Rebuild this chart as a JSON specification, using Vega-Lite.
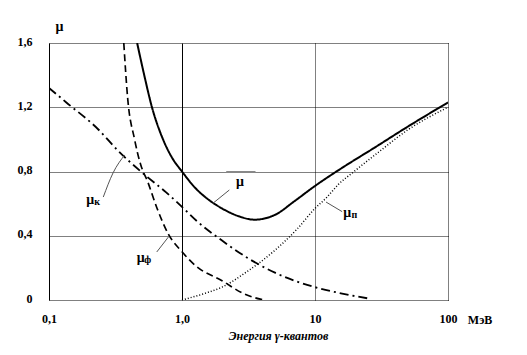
{
  "$schema": "https://vega.github.io/schema/vega-lite/v6.json",
  "width": 399,
  "height": 257,
  "autosize": "none",
  "padding": {"left": 49, "top": 43, "right": 79, "bottom": 55},
  "background": "white",
  "config": {"view": {"stroke": null}, "font": "Liberation Serif"},
  "datasets": {
    "curves": [
      {"s": "mu", "E": 0.46, "mu": 1.6},
      {"s": "mu", "E": 0.52, "mu": 1.4},
      {"s": "mu", "E": 0.59, "mu": 1.21},
      {"s": "mu", "E": 0.72, "mu": 1.0},
      {"s": "mu", "E": 0.85, "mu": 0.88},
      {"s": "mu", "E": 1.0, "mu": 0.8},
      {"s": "mu", "E": 1.25, "mu": 0.7},
      {"s": "mu", "E": 1.5, "mu": 0.64},
      {"s": "mu", "E": 2.0, "mu": 0.57},
      {"s": "mu", "E": 2.7, "mu": 0.52},
      {"s": "mu", "E": 3.5, "mu": 0.5},
      {"s": "mu", "E": 5.0, "mu": 0.53},
      {"s": "mu", "E": 7.0, "mu": 0.615},
      {"s": "mu", "E": 10, "mu": 0.71},
      {"s": "mu", "E": 16.5, "mu": 0.83},
      {"s": "mu", "E": 27, "mu": 0.94},
      {"s": "mu", "E": 50, "mu": 1.08},
      {"s": "mu", "E": 100, "mu": 1.23},
      {"s": "mu_k", "E": 0.1, "mu": 1.32},
      {"s": "mu_k", "E": 0.135, "mu": 1.23},
      {"s": "mu_k", "E": 0.236, "mu": 1.06},
      {"s": "mu_k", "E": 0.33, "mu": 0.93},
      {"s": "mu_k", "E": 0.49, "mu": 0.8},
      {"s": "mu_k", "E": 0.76, "mu": 0.67},
      {"s": "mu_k", "E": 1.0, "mu": 0.58},
      {"s": "mu_k", "E": 1.3, "mu": 0.49},
      {"s": "mu_k", "E": 2.0, "mu": 0.37},
      {"s": "mu_k", "E": 3.0, "mu": 0.27},
      {"s": "mu_k", "E": 5.0, "mu": 0.17},
      {"s": "mu_k", "E": 10, "mu": 0.08},
      {"s": "mu_k", "E": 16, "mu": 0.04},
      {"s": "mu_k", "E": 25, "mu": 0.01},
      {"s": "mu_f", "E": 0.365, "mu": 1.6},
      {"s": "mu_f", "E": 0.39, "mu": 1.26},
      {"s": "mu_f", "E": 0.44, "mu": 1.0},
      {"s": "mu_f", "E": 0.49, "mu": 0.84},
      {"s": "mu_f", "E": 0.55, "mu": 0.74},
      {"s": "mu_f", "E": 0.65, "mu": 0.57},
      {"s": "mu_f", "E": 0.79, "mu": 0.41},
      {"s": "mu_f", "E": 1.0, "mu": 0.3},
      {"s": "mu_f", "E": 1.28, "mu": 0.21},
      {"s": "mu_f", "E": 2.0, "mu": 0.12},
      {"s": "mu_f", "E": 2.9, "mu": 0.04},
      {"s": "mu_f", "E": 4.1, "mu": 0.0},
      {"s": "mu_n", "E": 1.0, "mu": 0.0},
      {"s": "mu_n", "E": 1.6, "mu": 0.05},
      {"s": "mu_n", "E": 2.0, "mu": 0.08},
      {"s": "mu_n", "E": 3.0, "mu": 0.17},
      {"s": "mu_n", "E": 5.0, "mu": 0.31},
      {"s": "mu_n", "E": 7.3, "mu": 0.44},
      {"s": "mu_n", "E": 10, "mu": 0.57},
      {"s": "mu_n", "E": 12.3, "mu": 0.64},
      {"s": "mu_n", "E": 15, "mu": 0.72},
      {"s": "mu_n", "E": 19, "mu": 0.79},
      {"s": "mu_n", "E": 30, "mu": 0.92},
      {"s": "mu_n", "E": 50, "mu": 1.06},
      {"s": "mu_n", "E": 100, "mu": 1.2}
    ],
    "leaders": [
      {"id": "k", "E": 0.256, "mu": 0.641},
      {"id": "k", "E": 0.303, "mu": 0.791},
      {"id": "k", "E": 0.371, "mu": 0.903},
      {"id": "f", "E": 0.646, "mu": 0.299},
      {"id": "f", "E": 0.79, "mu": 0.392},
      {"id": "m", "E": 1.72, "mu": 0.604},
      {"id": "m", "E": 2.27, "mu": 0.685},
      {"id": "n", "E": 12.1, "mu": 0.61},
      {"id": "n", "E": 16.0, "mu": 0.55}
    ],
    "labels": [
      {"E": 0.204, "mu": 0.623, "t": "μ", "sub": "к"},
      {"E": 0.49, "mu": 0.26, "t": "μ", "sub": "ф"},
      {"E": 2.73, "mu": 0.735, "t": "μ", "sub": ""},
      {"E": 17.5, "mu": 0.54, "t": "μ", "sub": "п"}
    ],
    "unit": [{"E": 100, "mu": 0, "t": "МэВ"}],
    "seg": [{"E": 2.15, "E2": 3.57, "mu": 0.797}]
  },
  "layer": [
    {
      "data": {"name": "curves"},
      "mark": {"type": "line", "color": "black", "clip": true, "interpolate": "monotone"},
      "encoding": {
        "x": {
          "field": "E", "type": "quantitative",
          "scale": {"type": "log", "domain": [0.1, 100]},
          "axis": {
            "values": [0.1, 1, 10, 100],
            "grid": true, "gridColor": "black", "gridOpacity": 1, "gridWidth": 1,
            "gridDash": {"condition": {"test": "datum.value < 5", "value": []}, "value": [1, 1]},
            "ticks": false, "domain": false,
            "labelExpr": "datum.value == 0.1 ? '0,1' : datum.value == 1 ? '1,0' : format(datum.value, 'd')",
            "labelFont": "Liberation Serif", "labelFontWeight": "bold", "labelFontSize": 12,
            "labelColor": "black", "labelPadding": 13, "labelFlush": false, "labelOverlap": false,
            "title": "Энергия γ-квантов",
            "titleFont": "Liberation Serif", "titleFontStyle": "italic", "titleFontWeight": "bold",
            "titleFontSize": 12, "titleColor": "black",
            "titleX": 229, "titleY": 35, "titleAlign": "center", "titleBaseline": "middle"
          }
        },
        "y": {
          "field": "mu", "type": "quantitative",
          "scale": {"domain": [0, 1.6]},
          "axis": {
            "values": [0, 0.4, 0.8, 1.2, 1.6],
            "grid": true, "gridColor": "black", "gridOpacity": 1, "gridWidth": 1, "gridDash": [1, 1],
            "ticks": false, "domain": false,
            "labelExpr": "datum.value == 0 ? '0' : replace(format(datum.value, '.1f'), '.', ',')",
            "labelFont": "Liberation Serif", "labelFontWeight": "bold", "labelFontSize": 12,
            "labelColor": "black", "labelPadding": 17, "labelOffset": -2, "labelFlush": false,
            "title": "μ", "titleAngle": 0, "titleFont": "Liberation Serif", "titleFontWeight": "bold",
            "titleFontSize": 14, "titleColor": "black",
            "titleX": 10, "titleY": -17, "titleAlign": "center", "titleBaseline": "middle"
          }
        },
        "strokeDash": {
          "field": "s", "type": "nominal",
          "scale": {"domain": ["mu", "mu_k", "mu_f", "mu_n"], "range": [[1, 0], [9, 4, 2, 4], [7, 4], [1, 2]]},
          "legend": null
        },
        "strokeWidth": {
          "field": "s", "type": "nominal",
          "scale": {"domain": ["mu", "mu_k", "mu_f", "mu_n"], "range": [2, 1.5, 1.5, 1.5]},
          "legend": null
        },
        "detail": {"field": "s"}
      }
    },
    {
      "data": {"name": "leaders"},
      "mark": {"type": "line", "color": "#555", "strokeWidth": 1, "interpolate": "monotone"},
      "encoding": {
        "x": {"field": "E", "type": "quantitative", "scale": {"type": "log", "domain": [0.1, 100]}},
        "y": {"field": "mu", "type": "quantitative", "scale": {"domain": [0, 1.6]}},
        "detail": {"field": "id"}
      }
    },
    {
      "data": {"name": "seg"},
      "mark": {"type": "rule", "color": "#888", "strokeWidth": 2},
      "encoding": {
        "x": {"field": "E", "type": "quantitative", "scale": {"type": "log", "domain": [0.1, 100]}},
        "x2": {"field": "E2"},
        "y": {"field": "mu", "type": "quantitative", "scale": {"domain": [0, 1.6]}}
      }
    },
    {
      "data": {"name": "labels"},
      "mark": {"type": "text", "font": "Liberation Serif", "fontWeight": "bold", "fontSize": 14, "color": "black", "align": "center", "baseline": "middle"},
      "encoding": {
        "x": {"field": "E", "type": "quantitative", "scale": {"type": "log", "domain": [0.1, 100]}},
        "y": {"field": "mu", "type": "quantitative", "scale": {"domain": [0, 1.6]}},
        "text": {"field": "t"}
      }
    },
    {
      "data": {"name": "labels"},
      "mark": {"type": "text", "font": "Liberation Serif", "fontWeight": "bold", "fontSize": 10, "color": "black", "align": "center", "baseline": "middle", "dx": 7, "dy": 2},
      "encoding": {
        "x": {"field": "E", "type": "quantitative", "scale": {"type": "log", "domain": [0.1, 100]}},
        "y": {"field": "mu", "type": "quantitative", "scale": {"domain": [0, 1.6]}},
        "text": {"field": "sub"}
      }
    },
    {
      "data": {"name": "unit"},
      "mark": {"type": "text", "font": "Liberation Serif", "fontWeight": "bold", "fontSize": 12, "color": "black", "align": "center", "baseline": "middle", "dx": 32, "dy": 20},
      "encoding": {
        "x": {"field": "E", "type": "quantitative", "scale": {"type": "log", "domain": [0.1, 100]}},
        "y": {"field": "mu", "type": "quantitative", "scale": {"domain": [0, 1.6]}},
        "text": {"field": "t"}
      }
    }
  ]
}
